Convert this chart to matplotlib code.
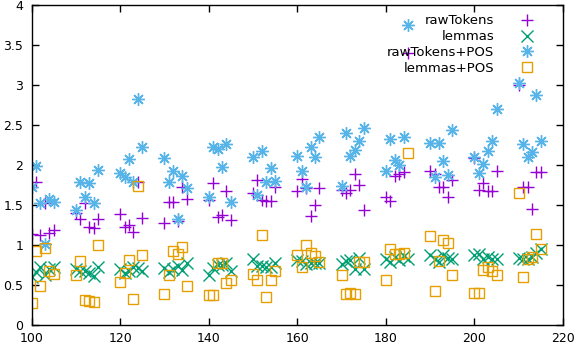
import matplotlib
matplotlib.use('Agg')
import matplotlib.pyplot as plt
import numpy as np

# x positions: six runs per block, blocks every 10 units
x = [b + i for b in range(100, 220, 10) for i in range(6)]

raw_tokens = [
    1.14, 1.79, 1.12, 1.53, 1.15, 1.19,
    1.40, 1.32, 1.53, 1.22, 1.21, 1.32,
    1.39, 1.22, 1.25, 1.16, 1.79, 1.34,
    1.28, 1.54, 1.54, 1.30, 1.73, 1.57,
    1.56, 1.77, 1.35, 1.38, 1.67, 1.31,
    1.65, 1.81, 1.56, 1.55, 1.55, 1.72,
    1.67, 1.83, 1.71, 1.36, 1.50, 1.71,
    1.69, 1.65, 1.69, 1.89, 1.75, 1.44,
    1.60, 1.55, 1.86, 1.89, 1.91, 3.40,
    1.92, 1.89, 1.72, 1.72, 1.60, 1.81,
    2.09, 1.69, 1.78, 1.68, 1.68, 1.92,
    3.00, 1.73, 1.73, 1.45, 1.91, 1.91,
]
lemmas = [
    0.60, 0.66, 0.73, 0.62, 0.70, 0.73,
    0.70, 0.67, 0.68, 0.65, 0.61, 0.73,
    0.70, 0.65, 0.68, 0.73, 0.71, 0.68,
    0.71, 0.66, 0.70, 0.74, 0.69, 0.77,
    0.63, 0.71, 0.75, 0.75, 0.77, 0.67,
    0.82, 0.74, 0.74, 0.73, 0.72, 0.78,
    0.81, 0.80, 0.76, 0.77, 0.77, 0.78,
    0.76, 0.80, 0.81, 0.70, 0.84, 0.70,
    0.83, 0.79, 0.85, 0.81, 0.86, 0.82,
    0.87, 0.83, 0.79, 0.87, 0.84, 0.83,
    0.87, 0.89, 0.83, 0.85, 0.82, 0.83,
    0.84, 0.82, 0.83, 0.85, 0.90, 0.95,
]
raw_tokens_pos = [
    1.73, 1.99, 1.53, 1.01, 1.57, 1.54,
    1.44, 1.79, 1.60, 1.78, 1.52, 1.94,
    1.90, 1.85, 2.07, 1.79, 2.82, 2.23,
    2.09, 1.79, 1.93, 1.33, 1.86, 1.71,
    1.60, 2.23, 2.20, 1.98, 2.26, 1.54,
    2.10, 1.63, 2.18, 1.79, 1.96, 1.80,
    2.11, 1.92, 1.72, 2.22, 2.10, 2.35,
    1.74, 2.40, 2.11, 2.19, 2.30, 2.46,
    1.92, 2.33, 2.06, 2.00, 2.35, 3.75,
    2.27, 1.85, 2.28, 2.05, 1.87, 2.44,
    2.10, 1.90, 2.01, 2.18, 2.30, 2.70,
    3.02, 2.26, 2.10, 2.16, 2.88, 2.30,
]
lemmas_pos = [
    0.27, 0.92, 0.49, 0.96, 0.67, 0.64,
    0.62, 0.80, 0.31, 0.30, 0.29, 1.00,
    0.54, 0.65, 0.81, 0.33, 1.74, 0.87,
    0.39, 0.62, 0.93, 0.89, 0.97, 0.49,
    0.37, 0.37, 0.77, 0.77, 0.53, 0.56,
    0.64, 0.56, 1.13, 0.35, 0.56, 0.67,
    0.87, 0.72, 1.00, 0.90, 0.86, 0.79,
    0.62, 0.39, 0.40, 0.39, 0.79, 0.79,
    0.56, 0.95, 0.89, 0.89, 0.90, 2.15,
    1.11, 0.42, 0.80, 1.06, 1.02, 0.62,
    0.40, 0.40, 0.69, 0.73, 0.67, 0.62,
    1.65, 0.60, 0.83, 0.85, 1.14, 0.95,
]

plt.rcParams['font.family'] = 'DejaVu Sans'
plt.rcParams['font.size'] = 9

fig = plt.figure(figsize=(5.78, 3.46), dpi=100)
ax = fig.add_axes([0.0545, 0.0607, 0.9195, 0.9248])

ax.plot(x, raw_tokens, ls='none', marker='+', ms=8, mew=1, color='#9400d3', label='rawTokens')
ax.plot(x, lemmas, ls='none', marker='x', ms=8, mew=1, color='#009e73', label='lemmas')
ax.plot(x, raw_tokens_pos, ls='none', marker=(8, 2, 0), ms=9, mew=1, color='#56b4e9', label='rawTokens+POS')
ax.plot(x, lemmas_pos, ls='none', marker='s', ms=7.5, mew=1, mfc='none', color='#e69f00', label='lemmas+POS')

ax.set_xlim(100, 220)
ax.set_ylim(0, 4)
ax.set_xticks(np.arange(100, 221, 20))
ax.set_yticks([0, 0.5, 1, 1.5, 2, 2.5, 3, 3.5, 4])
ax.set_yticklabels(['0', '0.5', '1', '1.5', '2', '2.5', '3', '3.5', '4'])
ax.tick_params(direction='in', top=True, right=True, length=5, width=1)
ax.tick_params(axis='x', pad=5)
ax.tick_params(axis='y', pad=6)
for s in ax.spines.values():
    s.set_linewidth(1)

ax.legend(loc='upper right', bbox_to_anchor=(0.975, 1.0), markerfirst=False, frameon=False,
          handletextpad=1.5, labelspacing=0.22, borderaxespad=0.3, prop={'size': 9.5})

fig.savefig('out.png', dpi=100)
